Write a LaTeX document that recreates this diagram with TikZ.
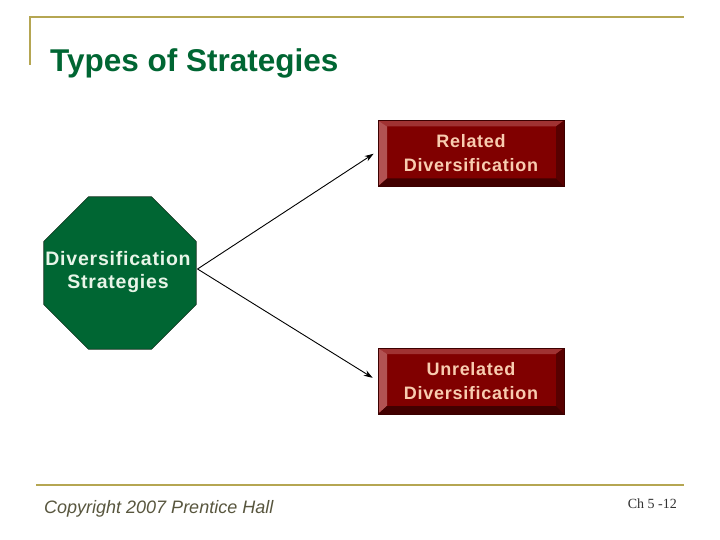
\documentclass[tikz,border=0pt]{standalone}
\usepackage{fontspec}
\setmainfont{Liberation Sans}
\newfontfamily\serifx{Liberation Serif}
\newfontfamily\spacedsans[LetterSpace=4]{Liberation Sans}
\usetikzlibrary{shapes.geometric,arrows.meta}
\definecolor{gold}{RGB}{181,166,82}
\definecolor{ttlgreen}{RGB}{0,102,51}
\definecolor{octgreen}{RGB}{0,102,51}
\definecolor{octedge}{RGB}{20,50,30}
\definecolor{octtext}{RGB}{232,245,232}
\definecolor{boxface}{RGB}{128,0,0}
\definecolor{boxedge}{RGB}{60,0,0}
\definecolor{beveltop}{RGB}{160,50,50}
\definecolor{bevelleft}{RGB}{178,82,82}
\definecolor{bevelright}{RGB}{88,0,0}
\definecolor{bevelbottom}{RGB}{66,0,0}
\definecolor{boxtext}{RGB}{248,204,176}
\definecolor{footgray}{RGB}{88,86,62}
\definecolor{pagegray}{RGB}{50,50,50}
\tikzset{
  bevelbox/.style={minimum width=186pt, minimum height=66pt, inner sep=0pt,
    fill=boxface, draw=boxedge, text=boxtext, align=center,
    font=\spacedsans\bfseries\fontsize{18}{24}\selectfont,
    path picture={
      \fill[beveltop] (path picture bounding box.north west) -- (path picture bounding box.north east)
        -- ([xshift=-8pt,yshift=-6pt]path picture bounding box.north east)
        -- ([xshift=9pt,yshift=-6pt]path picture bounding box.north west) -- cycle;
      \fill[bevelleft] (path picture bounding box.north west) -- ([xshift=9pt,yshift=-6pt]path picture bounding box.north west)
        -- ([xshift=9pt,yshift=8pt]path picture bounding box.south west)
        -- (path picture bounding box.south west) -- cycle;
      \fill[bevelright] (path picture bounding box.north east) -- ([xshift=-8pt,yshift=-6pt]path picture bounding box.north east)
        -- ([xshift=-8pt,yshift=8pt]path picture bounding box.south east)
        -- (path picture bounding box.south east) -- cycle;
      \fill[bevelbottom] (path picture bounding box.south west) -- ([xshift=9pt,yshift=8pt]path picture bounding box.south west)
        -- ([xshift=-8pt,yshift=8pt]path picture bounding box.south east)
        -- (path picture bounding box.south east) -- cycle;
    }},
  octnode/.style={regular polygon, regular polygon sides=8, minimum size=165pt, inner sep=0pt,
    fill=octgreen, draw=octedge, line width=0.6pt},
  octlabel/.style={inner sep=0pt, text=octtext, align=center,
    font=\spacedsans\bfseries\fontsize{19.5}{23.5}\selectfont},
  arrowline/.style={draw=black, line width=0.9pt, -{Stealth[length=9pt,width=6pt]}},
  rule/.style={draw=gold, line width=2.6pt}
}
\begin{document}
\begin{tikzpicture}[x=1pt,y=-1pt]
\useasboundingbox (0,0) rectangle (720,540);
\fill[white] (0,0) rectangle (720,540);
\draw[rule, line width=2pt] (30,65) -- (30,17);
\draw[rule] (29,17) -- (684,17);
\draw[rule] (36,485) -- (684,485);
\node[anchor=base west, inner sep=0pt, text=ttlgreen, font=\bfseries\fontsize{31.5}{36}\selectfont] (title) at (50,72) {Types of Strategies};
\node[octnode] (oct) at (120,273) {};
\node[octlabel] (octtxt) at (118,272) {Diversification\\Strategies};
\node[bevelbox] (rel) at (471,153.5) {Related\\Diversification};
\node[bevelbox] (unrel) at (471,381) {Unrelated\\Diversification};
\coordinate (src) at ([xshift=1pt,yshift=4pt]oct.east);
\draw[arrowline, shorten >=5pt] (src) -- ([yshift=2.5pt]rel.west);
\draw[arrowline, shorten >=6pt] (src) -- (unrel.west);
\node[anchor=base west, inner sep=0pt, text=footgray, font=\itshape\fontsize{18}{20}\selectfont] (copy) at (44,513) {Copyright 2007 Prentice Hall};
\node[anchor=base east, inner sep=0pt, text=pagegray, font=\serifx\fontsize{14}{16}\selectfont] (page) at (677,508) {Ch 5 -12};
\end{tikzpicture}
\end{document}
